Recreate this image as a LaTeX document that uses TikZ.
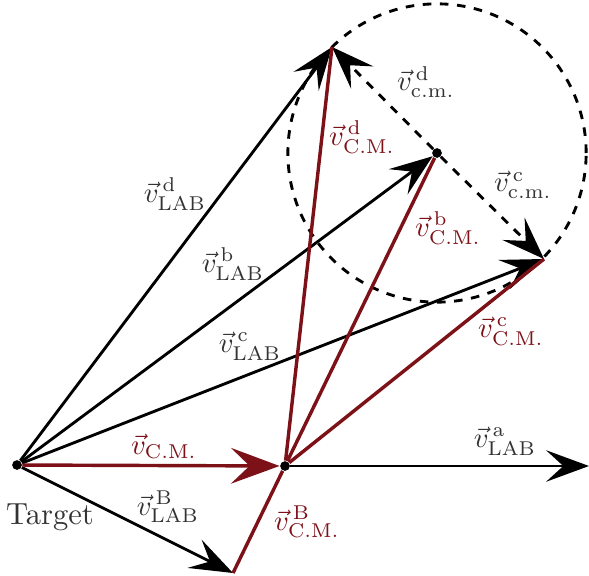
\documentclass[tikz,border=0pt]{standalone}
\usepackage{xcolor}
\usepackage{tikz}
\usetikzlibrary{arrows.meta, positioning}
\definecolor{cmred}{RGB}{125,17,24}

\begin{document}
\begin{tikzpicture}[
    x=0.35pt, y=-0.35pt,
    every node/.style={font=\normalsize, text=black!80, inner sep=0.5pt},
    dot/.style={circle, fill=black, inner sep=0pt, minimum size=3.4pt},
    lab/.style={-{Stealth[length=15pt, width=11pt, inset=6pt]}, line width=1pt},
    cmline/.style={cmred, line width=1.2pt},
    cmarrow/.style={cmred, -{Stealth[length=17pt, width=12.5pt, inset=6.5pt]}, line width=1.2pt},
    rel/.style={dashed, line width=1pt, -{Stealth[length=15pt, width=11pt, inset=6pt]}},
    redlabel/.style={text=cmred}
]
    \useasboundingbox (0,0) rectangle (589,575);

    % points of the two-body kinematics
    \node[dot] (target) at (17,465) {};
    \node[dot] (cm) at (285,466) {};
    \node[dot] (pb) at (437,153) {};
    \coordinate (pd) at (332,47);
    \coordinate (pc) at (544,259);
    \coordinate (pa) at (589,466);
    \coordinate (pB) at (233,573);

    % circle of c.m. velocities
    \draw[dashed, line width=1pt] (pb) circle[radius=52.2pt];

    % lab-frame velocities
    \draw[lab] (target) -- (pd);
    \draw[lab] (target) -- (pb);
    \draw[lab] (target) -- (pc);
    \draw[lab] (target) -- (pB);
    \draw[lab] (cm) -- (pa);

    % c.m.-frame velocities
    \draw[rel] (pb) -- (pd);
    \draw[rel] (pb) -- (pc);
    \draw[cmline] (cm) -- (pd);
    \draw[cmline] (cm) -- (pb);
    \draw[cmline] (cm) -- (pc);
    \draw[cmline] (cm) -- (pB);
    \draw[cmarrow] (target) -- (cm);

    % labels
    \node (ldLAB) at (175,194) {$\vec{v}^{\,\mathrm{d}}_{\mathrm{LAB}}$};
    \node (lbLAB) at (233,264) {$\vec{v}^{\,\mathrm{b}}_{\mathrm{LAB}}$};
    \node (lcLAB) at (250,346) {$\vec{v}^{\,\mathrm{c}}_{\mathrm{LAB}}$};
    \node (laLAB) at (505,441) {$\vec{v}^{\,\mathrm{a}}_{\mathrm{LAB}}$};
    \node (lBLAB) at (168,507) {$\vec{v}^{\,\mathrm{B}}_{\mathrm{LAB}}$};
    \node[font=\fontsize{10.7}{13}\selectfont] (ttarget) at (50,517) {Target};
    \node[redlabel] (lvcm) at (164,446) {$\vec{v}_{\mathrm{C.M.}}$};
    \node[redlabel] (lBCM) at (307,522) {$\vec{v}^{\,\mathrm{B}}_{\mathrm{C.M.}}$};
    \node[redlabel] (lcCM) at (511,331) {$\vec{v}^{\,\mathrm{c}}_{\mathrm{C.M.}}$};
    \node[redlabel] (lbCM) at (448,228) {$\vec{v}^{\,\mathrm{b}}_{\mathrm{C.M.}}$};
    \node[redlabel] (ldCM) at (362,137) {$\vec{v}^{\,\mathrm{d}}_{\mathrm{C.M.}}$};
    \node (ldcm) at (426,82) {$\vec{v}^{\,\mathrm{d}}_{\mathrm{c.m.}}$};
    \node (lccm) at (523,185) {$\vec{v}^{\,\mathrm{c}}_{\mathrm{c.m.}}$};
\end{tikzpicture}
\end{document}
